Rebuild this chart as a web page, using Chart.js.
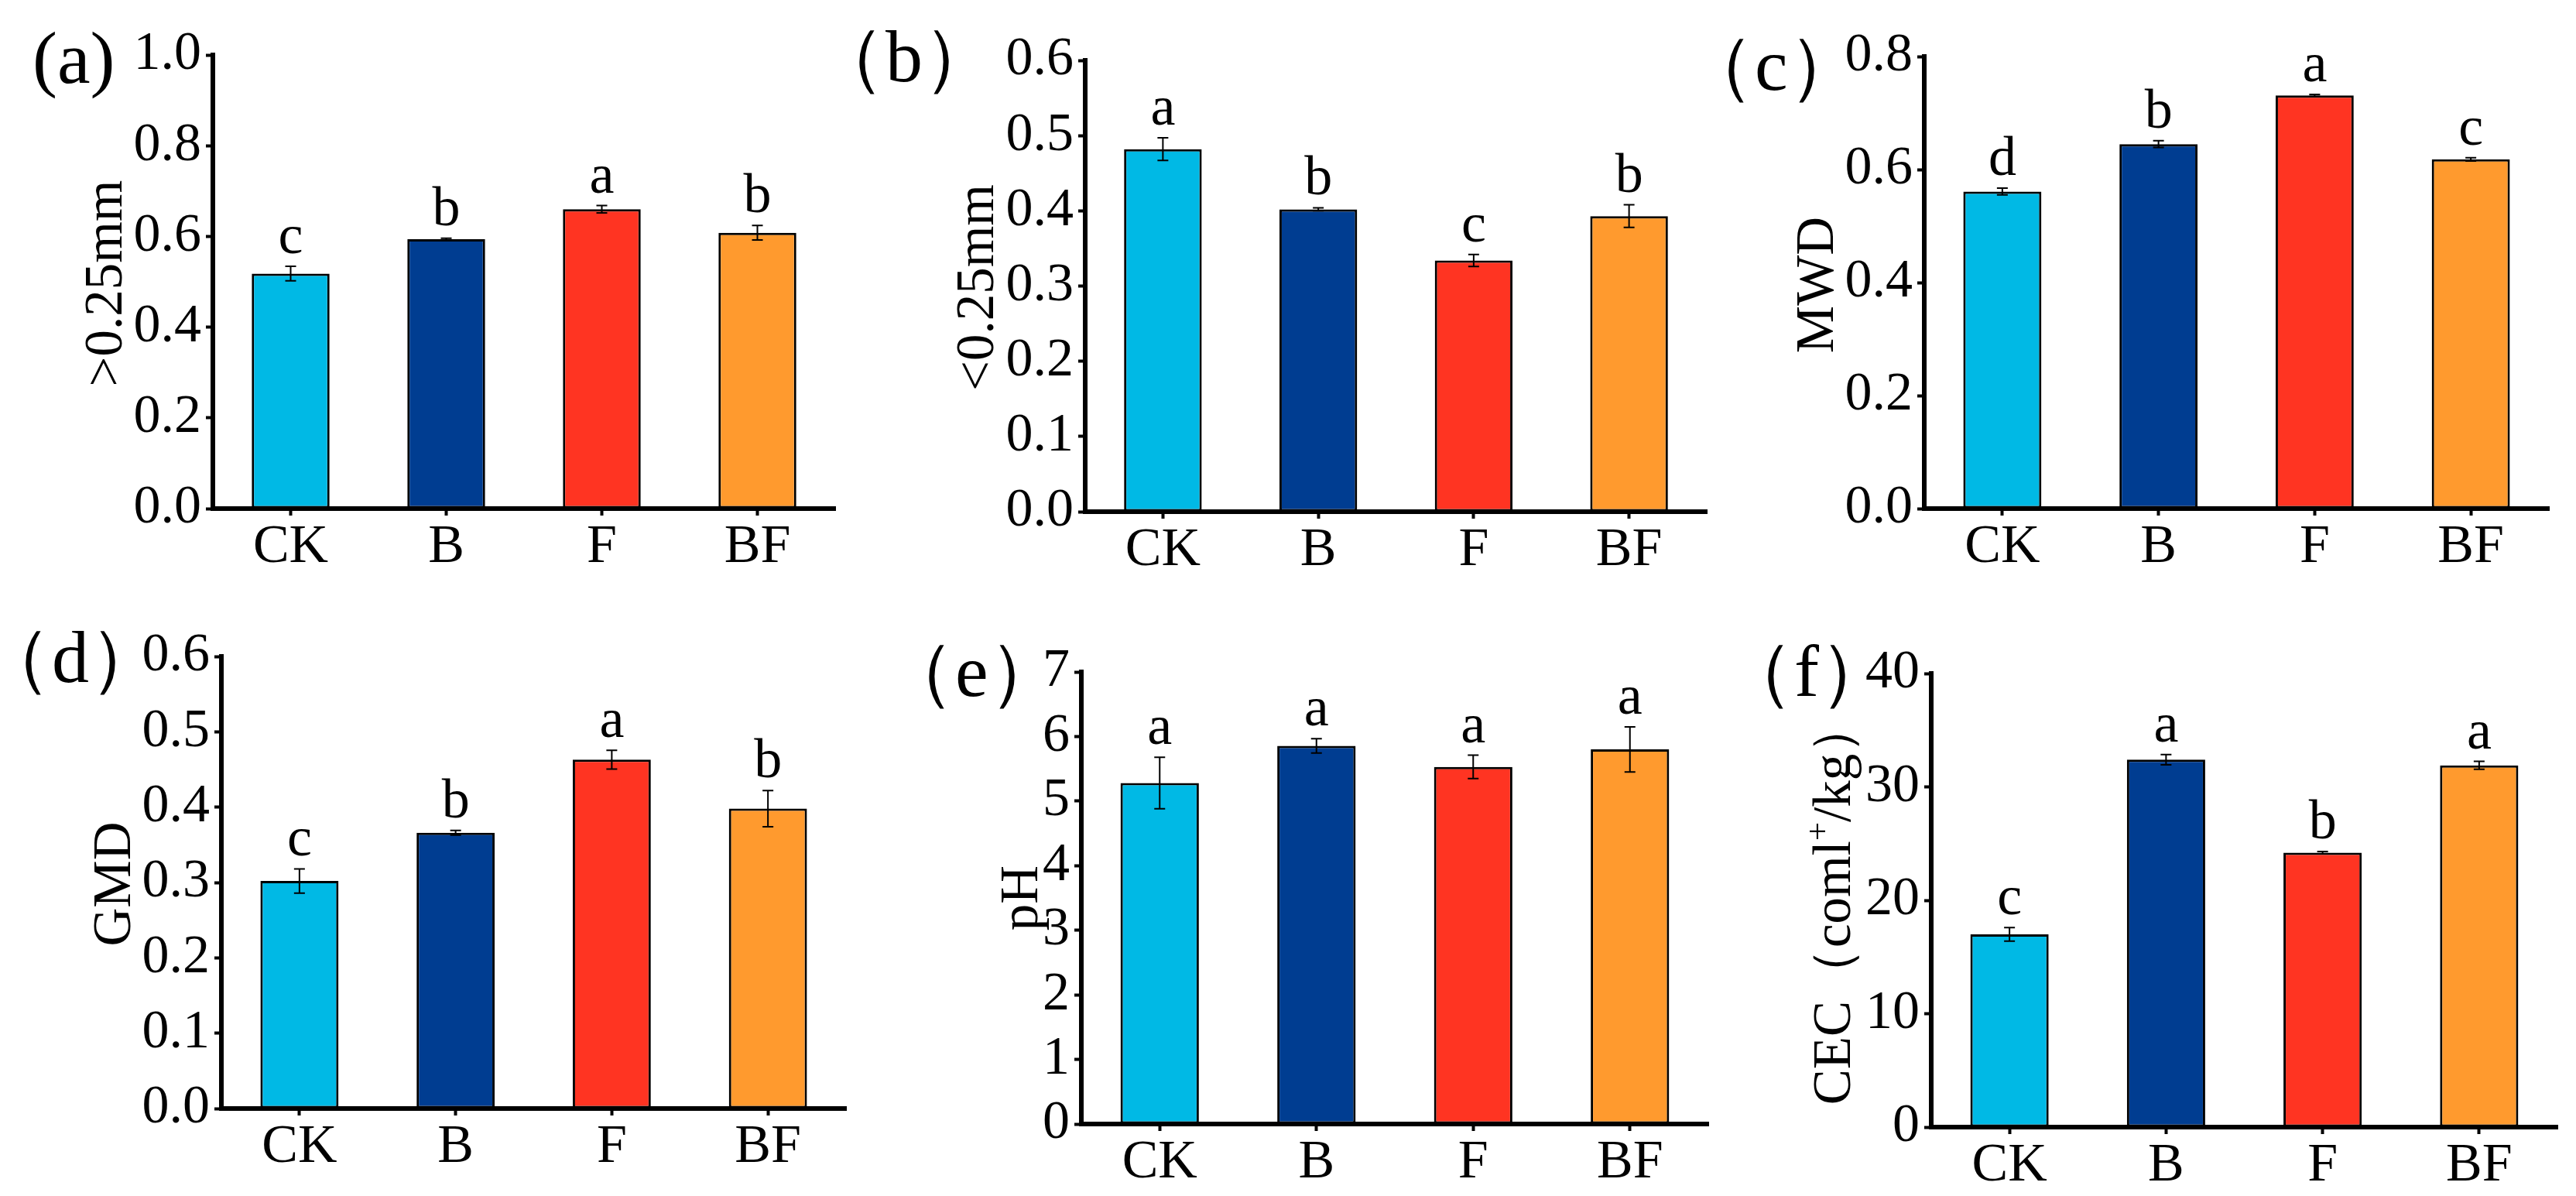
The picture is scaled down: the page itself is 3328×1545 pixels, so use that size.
<!DOCTYPE html>
<html>
<head>
<meta charset="utf-8">
<script src="https://cdn.jsdelivr.net/npm/chart.js@4.4.1/dist/chart.umd.min.js"></script>
<style>
  body { margin: 0; width: 3328px; height: 1545px; background: #fff; position: relative; overflow: hidden; }
  .panel { position: absolute; }
  .lab { position: absolute; font-family: "Liberation Serif", "Times New Roman", Times, serif; font-size: 96px; line-height: 1; white-space: nowrap; color: #000; }
</style>
</head>
<body>
<script>
// categories and colours
const categories = ['CK', 'B', 'F', 'BF'];
const barColors = ['#00B9E5', '#003D91', '#FF3422', '#FF9A2E'];

// (a) aggregates > 0.25 mm
const gt025 = [0.518, 0.594, 0.660, 0.608];
const gt025Err = [0.016, 0.002, 0.008, 0.016];
const gt025Sig = ['c', 'b', 'a', 'b'];

// (b) aggregates < 0.25 mm
const lt025 = [0.482, 0.402, 0.334, 0.393];
const lt025Err = [0.015, 0.002, 0.008, 0.015];
const lt025Sig = ['a', 'b', 'c', 'b'];

// (c) MWD
const mwd = [0.561, 0.645, 0.731, 0.618];
const mwdErr = [0.006, 0.006, 0.002, 0.003];
const mwdSig = ['d', 'b', 'a', 'c'];

// (d) GMD
const gmd = [0.302, 0.366, 0.463, 0.398];
const gmdErr = [0.016, 0.003, 0.0125, 0.024];
const gmdSig = ['c', 'b', 'a', 'b'];

// (e) pH
const ph = [5.28, 5.855, 5.53, 5.80];
const phErr = [0.40, 0.11, 0.18, 0.35];
const phSig = ['a', 'a', 'a', 'a'];

// (f) CEC
const cec = [17.0, 32.4, 24.2, 31.9];
const cecErr = [0.6, 0.45, 0.1, 0.35];
const cecSig = ['c', 'a', 'b', 'a'];

// panel texts and axis ticks
const panelLetters = ['(a)', '（b）', '（c）', '（d）', '（e）', '（f）'];
// axis titles, split where a superscript is needed
const axisTitles = [
  [{ t: '>0.25mm' }],
  [{ t: '<0.25mm' }],
  [{ t: 'MWD' }],
  [{ t: 'GMD' }],
  [{ t: 'pH' }],
  [{ t: 'CEC（coml' }, { t: '+', sup: true }, { t: '/kg）' }]
];
const yMax = [1.0, 0.6, 0.8, 0.6, 7, 40];
const yStep = [0.2, 0.1, 0.2, 0.1, 1, 10];
const yDecimals = [1, 1, 1, 1, 0, 0];

const series = [gt025, lt025, mwd, gmd, ph, cec];
const errors = [gt025Err, lt025Err, mwdErr, gmdErr, phErr, cecErr];
const letters = [gt025Sig, lt025Sig, mwdSig, gmdSig, phSig, cecSig];

// layout: chart area [left, top, right, bottom], title offset from axis, title shift, panel label [x, baseline]
const areas = [[275, 71, 1079, 657], [1402, 78, 2205, 661], [2486, 73, 3293, 657],
               [286, 848, 1093, 1432], [1397, 868, 2207, 1452], [2495, 870, 3304, 1456]];
const titleOffsets = [141, 142, 141, 141, 80, 128];
const titleShift = [2, 2, 3, 2, 0, 3];
const labelPos = [[42, 108], [1048, 106], [2171, 117], [-29, 882], [1138, 900], [2222, 900]];

const FONT = '"Liberation Serif", "Times New Roman", Times, serif';
const YW = 200, XH = 100, TP = 60, RP = 10, TITLE_SIZE = 69, LAB_SIZE = 96;

const errPlugin = {
  id: 'errbars',
  afterDatasetsDraw(chart, args, opts) {
    const meta = chart.getDatasetMeta(0);
    const ys = chart.scales.y;
    const ctx = chart.ctx;
    const vals = chart.data.datasets[0].data;
    ctx.save();
    ctx.strokeStyle = '#000';
    ctx.fillStyle = '#000';
    ctx.lineWidth = 2;
    ctx.font = '72px ' + FONT;
    ctx.textAlign = 'center';
    ctx.textBaseline = 'alphabetic';
    meta.data.forEach((bar, i) => {
      const e = opts.err[i];
      const yt = ys.getPixelForValue(vals[i] + e);
      const yb = ys.getPixelForValue(vals[i] - e);
      ctx.beginPath();
      ctx.moveTo(bar.x, yt); ctx.lineTo(bar.x, yb);
      ctx.moveTo(bar.x - 7, yt); ctx.lineTo(bar.x + 7, yt);
      ctx.moveTo(bar.x - 7, yb); ctx.lineTo(bar.x + 7, yb);
      ctx.stroke();
      ctx.fillText(opts.sig[i], bar.x, Math.min(yt, bar.y) - 17);
    });
    ctx.restore();
  }
};

// rotated y-axis title with optional superscript part
const titlePlugin = {
  id: 'ytitle',
  afterDraw(chart, args, o) {
    const ctx = chart.ctx, a = chart.chartArea;
    const sizeOf = p => p.sup ? o.size * 0.62 : o.size;
    ctx.save();
    const widths = o.parts.map(p => { ctx.font = sizeOf(p) + 'px ' + FONT; return ctx.measureText(p.t).width; });
    const total = widths.reduce((s, w) => s + w, 0);
    ctx.translate(a.left - o.offset, (a.top + a.bottom) / 2 + o.dy);
    ctx.rotate(-Math.PI / 2);
    ctx.fillStyle = '#000';
    ctx.textAlign = 'left';
    ctx.textBaseline = 'alphabetic';
    const base = o.size * 0.33;
    let x = -total / 2;
    o.parts.forEach((p, i) => {
      ctx.font = sizeOf(p) + 'px ' + FONT;
      ctx.fillText(p.t, x, p.sup ? base - o.size * 0.4 : base);
      x += widths[i];
    });
    ctx.restore();
  }
};

series.forEach((vals, k) => {
  const [L, T, R, B] = areas[k];
  const w = (R - L) + YW + RP, h = (B - T) + TP + XH;
  const div = document.createElement('div');
  div.className = 'panel';
  div.style.left = (L - YW) + 'px';
  div.style.top = (T - TP) + 'px';
  div.style.width = w + 'px';
  div.style.height = h + 'px';
  const cv = document.createElement('canvas');
  cv.width = w; cv.height = h;
  cv.style.width = w + 'px'; cv.style.height = h + 'px';
  div.appendChild(cv);
  document.body.appendChild(div);

  const lab = document.createElement('div');
  lab.className = 'lab';
  lab.textContent = panelLetters[k];
  lab.style.left = labelPos[k][0] + 'px';
  lab.style.top = (labelPos[k][1] - Math.round(LAB_SIZE * 0.84)) + 'px';
  document.body.appendChild(lab);

  new Chart(cv, {
    type: 'bar',
    data: {
      labels: categories,
      datasets: [{
        data: vals,
        backgroundColor: barColors,
        borderColor: '#000',
        borderWidth: 3,
        borderSkipped: false,
        barPercentage: 0.5,
        categoryPercentage: 1.0
      }]
    },
    options: {
      responsive: false,
      animation: false,
      devicePixelRatio: 1,
      layout: { padding: { top: TP, right: RP, left: 0, bottom: 0 } },
      plugins: {
        legend: { display: false },
        tooltip: { enabled: false },
        errbars: { err: errors[k], sig: letters[k] },
        ytitle: { parts: axisTitles[k], offset: titleOffsets[k], dy: titleShift[k], size: TITLE_SIZE }
      },
      scales: {
        x: {
          grid: { display: true, offset: false, drawOnChartArea: false, drawTicks: true, tickLength: 9, tickWidth: 4, tickColor: '#000' },
          border: { display: true, color: '#000', width: 6 },
          ticks: { font: { family: FONT, size: 70 }, color: '#000', padding: 0 },
          afterFit(s) { s.height = XH; }
        },
        y: {
          min: 0,
          max: yMax[k],
          grid: { drawOnChartArea: false, drawTicks: true, tickLength: 9, tickWidth: 4, tickColor: '#000' },
          border: { display: true, color: '#000', width: 6 },
          ticks: {
            stepSize: yStep[k],
            autoSkip: false,
            font: { family: FONT, size: 70 },
            color: '#000',
            padding: 6,
            callback: v => Number(v).toFixed(yDecimals[k])
          },
          afterFit(s) { s.width = YW; }
        }
      }
    },
    plugins: [errPlugin, titlePlugin]
  });
});
</script>
</body>
</html>
